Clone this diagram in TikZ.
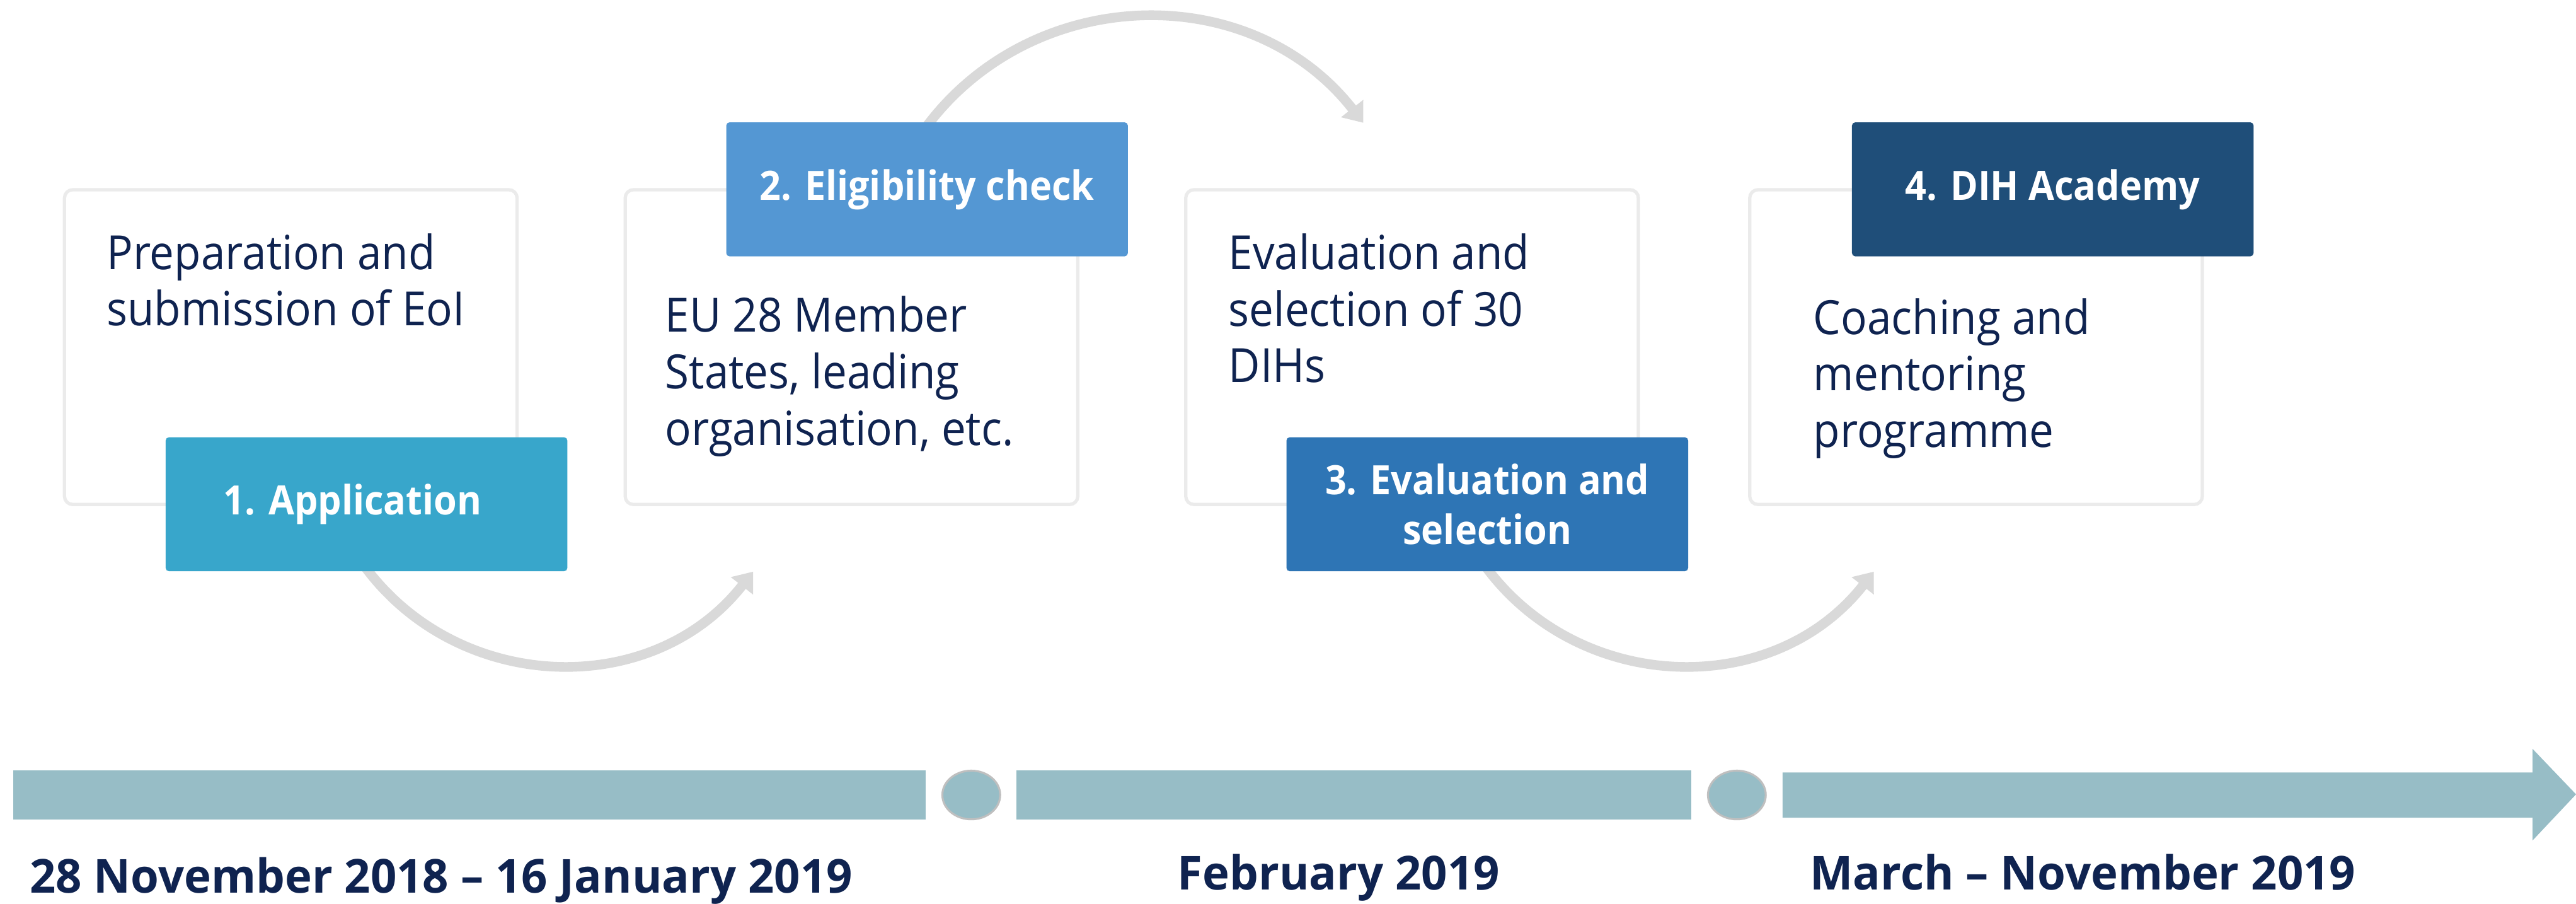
\documentclass[tikz,border=0pt]{standalone}
\usepackage{fontspec}
\setmainfont{Open Sans}[FakeStretch=0.925]
\newfontfamily\datefont{Open Sans}[FakeStretch=0.975]
\usetikzlibrary{arrows.meta}
\definecolor{navy}{HTML}{0F2350}
\definecolor{boxgray}{HTML}{EBEBEB}
\definecolor{arcgray}{HTML}{D9D9D9}
\definecolor{tlblue}{HTML}{97BDC6}
\definecolor{dotgray}{HTML}{BFBFBF}
\definecolor{tagA}{HTML}{38A6CB}
\definecolor{tagB}{HTML}{5497D3}
\definecolor{tagC}{HTML}{2E75B5}
\definecolor{tagD}{HTML}{1F4E79}
\tikzset{
  stepbox/.style={draw=boxgray, line width=2pt, fill=white, rounded corners=5pt,
    minimum width=275.5pt, minimum height=191.5pt, inner sep=0pt},
  tag/.style={rounded corners=2pt, minimum width=244.5pt, minimum height=81.5pt,
    inner sep=0pt, text=white, font=\bfseries\fontsize{24.6}{30}\selectfont, align=center},
  body/.style={text=navy, font=\fontsize{28.7}{34.4}\selectfont, inner sep=0pt, anchor=base west},
  datelbl/.style={text=navy, font=\datefont\bfseries\fontsize{28.5}{30}\selectfont,
    inner sep=0pt, anchor=base west},
  flow/.style={draw=arcgray, line width=5.9pt, -{Triangle[length=11pt,width=16.5pt]}},
  bar/.style={fill=tlblue, draw=none},
  dot/.style={fill=tlblue, draw=dotgray, line width=1.2pt}
}
\begin{document}
\begin{tikzpicture}[x=1pt,y=1pt]
\useasboundingbox[fill=white] (0,0) rectangle (1568,550);
% step boxes
\node[stepbox] (B1) at (177.0,338.8) {};
\node[stepbox] (B2) at (518.3,338.8) {};
\node[stepbox] (B3) at (859.5,338.8) {};
\node[stepbox] (B4) at (1202.8,338.8) {};
% curved connectors
\coordinate (a1s) at (215.3,215.2);
\coordinate (a1e) at (458.4,202.2);
\coordinate (a2s) at (555.7,461.0);
\coordinate (a2e) at (829.8,475.3);
\coordinate (a3s) at (897.5,215.2);
\coordinate (a3e) at (1140.6,202.2);
\draw[flow] (a1s) to[out=-58,in=-128.1,looseness=1.08] (a1e);
\draw[flow] (a2s) to[out=58,in=128,looseness=1.08] (a2e);
\draw[flow] (a3s) to[out=-58,in=-128.1,looseness=1.08] (a3e);
% tags
\node[tag, fill=tagA] (L1) at (223.1,243.2) {1. Application\hspace*{17pt}};
\node[tag, fill=tagB] (L2) at (564.3,434.8) {\raisebox{-2.5pt}{2. Eligibility check}};
\node[tag, fill=tagC] (L3) at (905.3,243.2) {3. Evaluation and\\selection};
\node[tag, fill=tagD] (L4) at (1249.5,434.8) {4. DIH Academy};
% body texts
\node[body] (t1) at (64.8,386.2) {\parbox[t]{250pt}{Preparation and\\submission of EoI}};
\node[body] (t2) at (404.7,348.0) {\parbox[t]{250pt}{EU 28 Member\\States, leading\\organisation, etc.}};
\node[body] (t3) at (747.6,386.0) {\parbox[t]{250pt}{Evaluation and\\selection of 30\\DIHs}};
\node[body] (t4) at (1103.6,346.7) {\parbox[t]{250pt}{Coaching and\\mentoring\\programme}};
% timeline
\fill[bar] (8.2,51.3) rectangle (563.6,81.4);
\draw[dot] (591.2,66.3) ellipse [x radius=17.6, y radius=14.8];
\fill[bar] (618.5,51.3) rectangle (1029.6,81.4);
\draw[dot] (1057.2,66.3) ellipse [x radius=17.6, y radius=14.8];
\fill[bar] (1085,52.5) -- (1541.6,52.5) -- (1541.6,38.7) -- (1568,66.7) -- (1541.6,94.3)
  -- (1541.6,80) -- (1085,80) -- cycle;
% dates
\node[datelbl] (d1) at (18,6.6) {28 November 2018 – 16 January 2019};
\node[datelbl] (d2) at (716.6,8.5) {February 2019};
\node[datelbl] (d3) at (1101.6,8.5) {March – November 2019};
\end{tikzpicture}
\end{document}
